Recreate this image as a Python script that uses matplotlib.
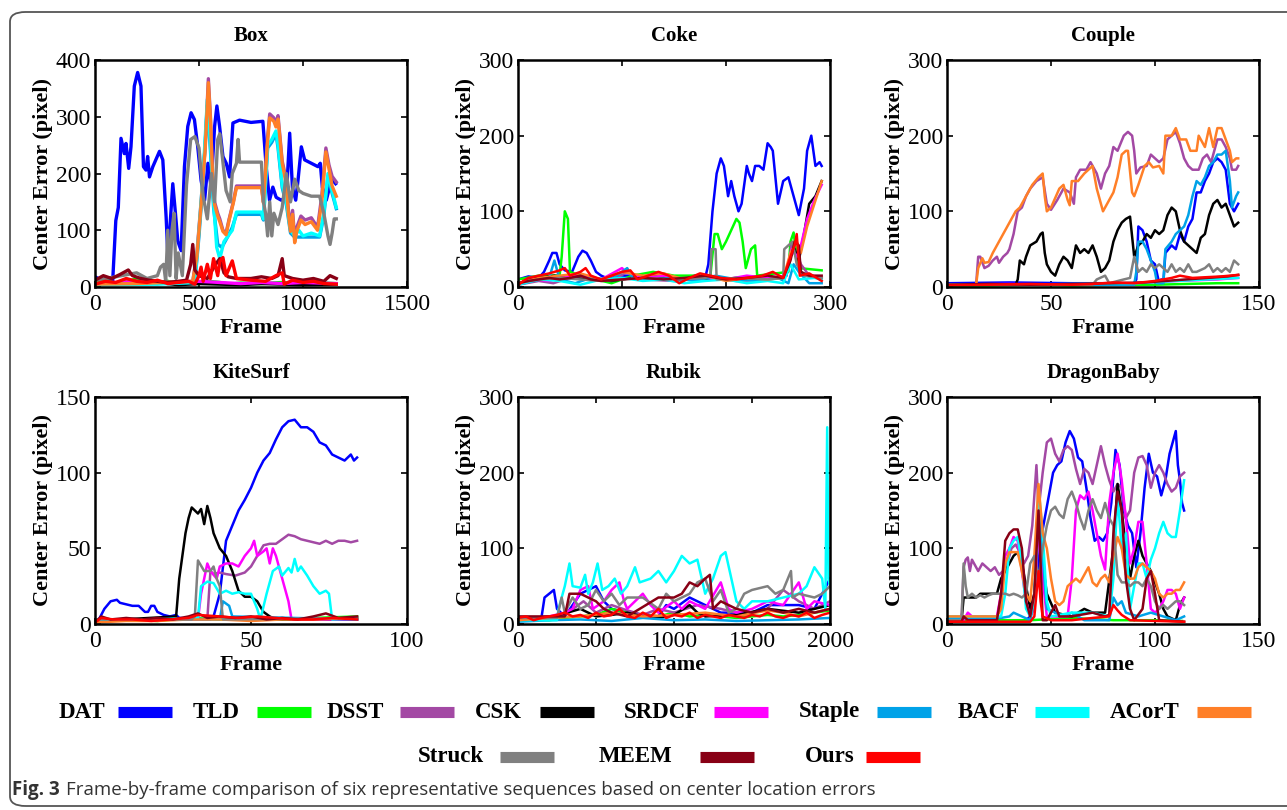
import matplotlib
matplotlib.use("Agg")
import matplotlib.pyplot as plt
from matplotlib.lines import Line2D
from matplotlib.patches import FancyBboxPatch

plt.rcParams['font.family'] = ['Liberation Serif', 'DejaVu Serif']
plt.rcParams['font.serif'] = ['Liberation Serif', 'DejaVu Serif']

trackers = ['DAT', 'TLD', 'DSST', 'CSK', 'SRDCF', 'Staple', 'BACF', 'ACorT', 'Struck', 'MEEM', 'Ours']
colors = ['#0000ff', '#00ff00', '#a349a4', '#000000', '#ff00ff', '#00a2e8',
          '#00ffff', '#ff7f27', '#808080', '#880015', '#ff0000']

# ---------------- Box ----------------
box_dat = [(0,18),(30,12),(60,16),(85,10),(100,117),(112,140),(125,262),(141,235),(149,253),(162,209),
           (173,247),(189,354),(205,378),(221,354),(233,212),(245,206),(253,230),(262,194),(278,212),
           (310,239),(326,224),(342,123),(350,58),(358,93),(374,182),(387,129),(398,81),(414,64),
           (430,212),(446,283),(462,307),(478,295),(494,247),(510,188),(527,153),(543,218),(558,176),
           (575,283),(586,319),(599,283),(615,230),(631,218),(647,194),(663,289),(695,294),(750,290),
           (807,292),(823,212),(839,153),(855,176),(871,158),(895,153),(920,158),(936,271),(949,176),
           (965,153),(976,188),(992,247),(1008,224),(1040,218),(1072,212),(1083,218),(1093,176),
           (1112,153),(1128,176),(1144,188),(1157,182)]
box_tld = [(0,8),(50,12),(100,6),(150,10),(200,14),(250,8),(300,6),(350,10),(400,5),(450,8),(500,6),
           (550,10),(600,8),(650,5),(700,7),(800,6),(900,8),(1000,5),(1100,7),(1160,6)]
box_dsst = [(0,5),(200,6),(470,10),(490,60),(510,150),(530,250),(545,367),(555,300),(565,200),(575,150),
            (590,130),(600,120),(615,100),(630,95),(645,120),(665,150),(680,178),(800,178),(810,150),
            (830,265),(840,305),(860,298),(870,288),(880,302),(890,262),(900,222),(910,205),(920,185),
            (930,135),(940,105),(950,135),(960,85),(970,105),(990,125),(1010,118),(1040,122),(1070,105),
            (1090,160),(1110,245),(1125,215),(1140,195),(1160,185)]
box_csk = [(0,4),(100,6),(200,5),(300,8),(400,4),(500,6),(600,5),(700,4),(800,6),(900,5),(1000,4),(1160,5)]
box_srdcf = [(0,6),(100,8),(200,10),(300,6),(400,8),(500,10),(600,8),(700,6),(800,8),(900,6),(1000,8),(1160,6)]
box_staple = [(0,5),(300,6),(480,8),(500,90),(520,190),(540,320),(555,240),(570,140),(590,75),(610,70),
              (640,90),(660,105),(680,128),(800,128),(810,118),(830,245),(850,255),(870,270),(880,245),
              (900,175),(920,145),(940,95),(960,88),(1000,88),(1080,88),(1100,125),(1120,195),(1140,165),
              (1160,138)]
box_bacf = [(0,4),(300,5),(480,8),(500,100),(520,200),(540,330),(555,250),(570,150),(585,70),(600,50),
            (620,80),(640,90),(660,100),(680,132),(800,132),(810,120),(830,250),(850,260),(870,275),
            (880,250),(900,180),(920,150),(940,100),(960,90),(980,100),(1000,90),(1040,95),(1080,90),
            (1100,130),(1120,200),(1140,170),(1160,140)]
box_acort = [(0,5),(200,6),(470,10),(490,55),(510,145),(530,245),(545,360),(555,295),(565,195),(575,145),
             (590,125),(600,115),(615,98),(630,92),(645,118),(665,148),(680,175),(800,175),(810,148),
             (830,258),(840,298),(860,292),(870,282),(880,296),(890,258),(900,218),(910,200),(920,178),
             (930,128),(940,98),(950,128),(960,78),(970,98),(990,118),(1010,110),(1040,115),(1070,100),
             (1090,150),(1110,238),(1125,208),(1140,178),(1160,160)]
box_struck = [(0,12),(100,18),(200,25),(250,15),(300,20),(315,35),(330,40),(340,10),(350,100),(360,20),
              (370,100),(380,130),(390,15),(400,60),(420,20),(440,180),(460,260),(480,265),(500,245),
              (520,160),(540,120),(560,200),(575,150),(590,260),(600,270),(615,220),(630,170),(650,150),
              (660,200),(680,218),(688,260),(695,220),(800,220),(810,150),(820,130),(830,90),(840,150),
              (850,90),(860,130),(880,110),(900,140),(920,200),(940,150),(960,190),(980,170),(1000,165),
              (1040,160),(1080,160),(1100,130),(1120,90),(1130,75),(1140,95),(1150,120),(1160,120)]
box_meem = [(0,12),(40,20),(80,15),(120,22),(160,30),(180,20),(220,15),(260,12),(300,10),(350,8),(400,10),
            (440,12),(460,40),(470,75),(480,30),(500,20),(540,15),(580,40),(600,50),(620,25),(640,18),
            (680,15),(750,15),(800,18),(850,15),(880,20),(900,50),(910,20),(950,15),(1000,12),(1050,15),
            (1100,10),(1130,20),(1160,15)]
box_ours = [(0,5),(50,10),(100,8),(150,15),(200,10),(250,8),(300,12),(350,6),(400,8),(450,10),(480,5),
            (500,20),(510,35),(520,10),(540,40),(555,15),(570,50),(590,20),(600,45),(615,52),(630,20),
            (660,46),(680,15),(750,12),(820,10),(870,20),(900,25),(910,5),(950,12),(1000,8),(1050,10),
            (1100,6),(1160,5)]

# ---------------- Coke ----------------
coke_dat = [(0,10),(10,14),(20,12),(25,20),(30,35),(33,45),(37,45),(40,30),(45,22),(52,20),(58,40),(62,48),
            (66,45),(70,35),(75,20),(80,15),(85,12),(100,15),(110,15),(120,12),(140,10),(160,10),(170,15),
            (180,12),(183,30),(187,100),(191,150),(195,170),(198,160),(202,120),(205,140),(208,120),
            (212,100),(215,110),(220,160),(222,150),(225,140),(228,160),(232,160),(236,155),(240,190),
            (243,185),(245,180),(250,110),(255,140),(260,145),(265,120),(270,95),(275,130),(278,180),
            (282,200),(286,160),(290,165),(292,160)]
coke_tld = [(0,10),(20,15),(40,15),(42,40),(45,100),(48,90),(50,20),(60,15),(90,5),(100,10),(110,15),
            (130,20),(150,15),(180,15),(185,15),(189,70),(192,70),(196,50),(200,60),(205,75),(210,90),
            (213,85),(216,60),(219,25),(224,50),(228,55),(230,15),(260,20),(262,60),(265,72),(268,40),
            (270,25),(292,22)]
coke_dsst = [(0,3),(20,8),(34,5),(50,12),(70,10),(90,8),(105,20),(120,10),(150,8),(180,12),(210,8),
             (240,10),(258,15),(263,55),(268,45),(272,30),(280,15),(292,12)]
coke_csk = [(0,3),(10,10),(20,12),(35,15),(50,12),(70,10),(90,8),(110,12),(130,15),(150,10),(170,12),
            (190,10),(210,12),(230,10),(250,12),(258,15),(262,40),(266,50),(270,35),(275,70),(280,110),
            (286,120),(292,140)]
coke_srdcf = [(0,5),(15,10),(30,8),(40,12),(60,15),(80,10),(100,25),(104,20),(120,12),(140,15),(160,10),
              (180,12),(200,10),(220,15),(240,12),(258,15),(263,50),(268,40),(272,55),(278,90),(285,115),
              (292,135)]
coke_staple = [(0,3),(15,8),(30,12),(35,35),(40,10),(55,5),(70,12),(90,10),(105,25),(110,12),(130,10),
               (150,12),(170,8),(190,15),(210,10),(230,8),(250,12),(260,5),(265,30),(270,20),(280,5),(292,5)]
coke_bacf = [(0,3),(20,10),(40,8),(60,3),(80,10),(100,12),(120,8),(140,10),(160,5),(180,8),(200,10),
             (220,5),(240,8),(255,5),(262,30),(270,10),(285,12),(292,10)]
coke_acort = [(0,5),(20,12),(40,15),(60,18),(80,10),(100,20),(120,15),(140,18),(160,10),(180,15),(200,8),
              (220,12),(240,10),(255,12),(262,45),(268,60),(272,45),(278,80),(285,110),(292,140)]
coke_struck = [(0,5),(20,10),(40,12),(60,10),(80,8),(100,10),(120,12),(150,10),(180,12),(185,15),(186,50),
               (190,50),(191,10),(210,12),(240,10),(255,12),(256,50),(260,55),(264,60),(268,30),(275,15),
               (292,12)]
coke_meem = [(0,5),(10,8),(20,10),(30,12),(40,10),(50,12),(60,15),(70,10),(80,8),(100,10),(120,12),
             (140,10),(160,12),(180,15),(200,10),(220,12),(240,15),(255,12),(262,35),(266,60),(270,55),
             (272,20),(280,15),(292,15)]
coke_ours = [(0,2),(5,8),(10,12),(20,15),(30,18),(40,22),(45,25),(50,15),(60,20),(65,25),(70,15),(80,10),
             (90,15),(100,20),(108,22),(115,10),(125,15),(135,20),(145,15),(155,5),(165,12),(175,18),
             (185,15),(195,12),(210,10),(220,12),(235,15),(245,20),(255,12),(262,40),(266,55),(268,70),
             (271,15),(280,18),(292,8)]

# ---------------- Couple ----------------
couple_dat = [(0,5),(30,6),(60,5),(90,5),(91,10),(92,80),(94,75),(96,60),(98,35),(100,30),(102,5),
              (103,10),(104,5),(105,45),(108,55),(110,50),(112,70),(114,60),(116,80),(118,90),(120,125),
              (122,125),(124,140),(126,150),(128,165),(130,170),(132,165),(134,155),(136,110),(138,100),
              (140,110)]
couple_tld = [(0,2),(20,2),(40,3),(60,2),(80,3),(100,3),(115,4),(130,5),(140,5)]
couple_dsst = [(0,3),(14,3),(15,40),(16,40),(18,25),(20,28),(22,35),(24,40),(25,32),(27,40),(29,45),
               (30,50),(32,70),(34,100),(36,105),(38,120),(40,130),(43,140),(46,145),(48,110),(50,102),
               (53,115),(56,130),(59,125),(61,110),(62,145),(64,155),(67,155),(69,165),(72,150),(74,130),
               (76,150),(78,160),(80,185),(82,180),(85,200),(87,205),(89,200),(90,180),(91,150),(93,158),
               (96,160),(98,175),(100,170),(102,165),(104,170),(106,195),(108,200),(110,205),(112,190),
               (114,170),(116,160),(118,155),(121,155),(123,170),(125,175),(127,165),(130,195),(132,195),
               (134,185),(136,170),(137,155),(139,155),(140,160)]
couple_csk = [(0,3),(33,3),(34,10),(35,35),(37,30),(38,40),(40,55),(43,60),(45,70),(46,72),(47,45),
              (48,30),(50,20),(52,15),(54,30),(56,40),(58,35),(60,25),(62,55),(64,45),(66,50),(68,45),
              (70,55),(72,40),(74,20),(76,25),(78,35),(80,60),(82,75),(84,85),(86,90),(88,93),(90,40),
              (92,55),(94,60),(96,70),(98,65),(100,75),(102,70),(104,75),(106,95),(108,105),(110,100),
              (112,75),(114,60),(116,55),(118,50),(120,45),(122,65),(124,70),(126,95),(128,110),(130,115),
              (132,105),(134,110),(136,95),(138,80),(140,85)]
couple_srdcf = [(0,3),(30,4),(60,3),(90,5),(110,8),(130,10),(140,12)]
couple_staple = [(0,3),(90,3),(91,20),(92,60),(94,60),(96,50),(98,35),(100,20),(101,5),(104,5),(105,50),
                 (108,60),(110,70),(112,75),(114,80),(116,95),(118,120),(120,140),(122,135),(124,145),
                 (126,160),(128,165),(130,175),(132,175),(134,180),(136,140),(137,105),(139,120),(140,125)]
couple_bacf = [(0,3),(30,3),(60,4),(90,5),(110,8),(125,10),(140,12)]
couple_acort = [(0,3),(14,3),(15,25),(17,38),(18,32),(20,33),(22,45),(25,60),(28,75),(30,85),(33,100),
                (35,105),(38,120),(41,135),(44,145),(46,150),(47,120),(48,100),(50,105),(54,130),(56,135),
                (58,115),(59,108),(60,140),(63,140),(66,150),(68,155),(70,160),(72,130),(74,110),(75,100),
                (77,110),(79,120),(80,125),(82,145),(84,175),(86,180),(87,180),(89,125),(90,120),(92,135),
                (95,160),(97,165),(99,158),(102,160),(104,150),(105,200),(108,200),(110,210),(112,195),
                (115,195),(117,180),(120,180),(121,200),(124,185),(126,210),(128,185),(130,210),(132,210),
                (134,195),(136,180),(137,165),(139,170),(140,170)]
couple_struck = [(0,3),(70,3),(72,10),(76,15),(78,5),(85,10),(88,12),(90,40),(92,20),(94,25),(96,20),
                 (98,30),(100,25),(102,30),(104,25),(106,20),(108,30),(110,20),(112,25),(114,20),(116,30),
                 (118,20),(120,20),(124,25),(126,30),(128,20),(130,25),(132,20),(134,25),(136,20),(138,35),
                 (140,30)]
couple_meem = [(0,3),(20,4),(40,3),(60,4),(80,5),(95,6),(105,8),(115,10),(125,12),(135,14),(140,16)]
couple_ours = [(0,2),(20,3),(40,4),(60,3),(70,4),(80,6),(90,5),(100,8),(108,12),(112,15),(118,12),
               (125,13),(132,14),(140,16)]

# ---------------- KiteSurf ----------------
kite_dat = [(0,0),(1,2),(3,10),(5,15),(7,16),(8,14),(10,13),(12,12),(14,12),(15,10),(16,8),(17,8),(18,12),
            (19,12),(20,8),(22,6),(24,5),(26,6),(27,4),(37,3),(38,5),(40,20),(42,55),(44,65),(46,75),
            (48,82),(50,90),(52,100),(54,108),(56,113),(58,122),(60,130),(62,134),(64,135),(66,130),
            (68,130),(70,127),(72,120),(74,118),(76,112),(78,110),(80,108),(82,112),(83,108),(84,110)]
kite_tld = [(0,2),(10,3),(20,2),(30,4),(40,3),(50,4),(60,3),(70,4),(84,5)]
kite_dsst = [(0,3),(36,3),(37,35),(38,33),(40,34),(42,33),(45,32),(48,34),(50,38),(52,45),(54,52),(56,53),
             (58,53),(60,56),(62,59),(64,58),(66,56),(68,55),(70,54),(72,53),(74,55),(76,53),(78,55),
             (80,55),(82,54),(84,55)]
kite_csk = [(0,2),(26,5),(27,30),(28,45),(29,60),(30,70),(31,77),(32,75),(33,73),(34,76),(35,66),(36,78),
            (37,70),(38,60),(40,50),(42,45),(44,35),(46,22),(48,18),(50,18),(52,15),(54,8),(56,5),(58,3),
            (84,3)]
kite_srdcf = [(0,3),(33,3),(34,20),(35,30),(36,40),(37,35),(39,30),(40,38),(42,40),(44,40),(46,38),(48,45),
              (50,50),(51,55),(52,45),(54,48),(55,50),(56,40),(57,50),(58,45),(60,30),(62,15),(63,3),(84,3)]
kite_staple = [(0,3),(40,3),(41,15),(43,12),(44,5),(84,3)]
kite_bacf = [(0,3),(17,3),(33,4),(34,25),(36,28),(38,27),(40,20),(42,22),(44,20),(46,21),(48,20),(50,20),
             (52,10),(53,3),(55,20),(57,35),(59,38),(60,32),(62,37),(63,34),(64,43),(65,35),(66,38),(68,32),
             (70,25),(72,20),(74,22),(75,20),(76,3),(84,4)]
kite_acort = [(0,1),(10,2),(20,2),(30,3),(40,3),(50,2),(60,3),(70,3),(84,4)]
kite_struck = [(0,3),(31,3),(32,5),(33,42),(35,35),(37,35),(38,38),(39,30),(40,25),(41,3),(84,4)]
kite_meem = [(0,1),(2,5),(5,3),(10,4),(15,3),(20,4),(25,3),(30,5),(33,7),(36,4),(40,5),(45,4),(50,5),
             (55,3),(60,4),(65,3),(70,5),(74,7),(78,4),(84,5)]
kite_ours = [(0,1),(2,4),(6,3),(12,3),(18,2),(24,3),(30,4),(33,6),(40,5),(46,4),(52,5),(58,4),(64,3),
             (70,3),(76,4),(84,3)]

# ---------------- Rubik ----------------
rubik_dat = [(0,8),(150,8),(170,35),(200,40),(230,45),(250,20),(300,10),(400,40),(500,50),(550,30),
             (600,20),(700,15),(900,10),(950,25),(1000,20),(1100,35),(1300,15),(1500,15),(1600,25),
             (1800,25),(1900,20),(2000,60)]
rubik_tld = [(0,5),(100,6),(200,5),(300,8),(400,10),(500,12),(600,20),(700,15),(800,12),(900,10),
             (1000,15),(1100,10),(1200,12),(1300,10),(1400,8),(1500,10),(1600,12),(1700,10),(1800,12),
             (1900,15),(2000,18)]
rubik_dsst = [(0,5),(150,8),(300,12),(420,30),(500,15),(600,25),(700,18),(800,12),(900,20),(1000,15),
              (1150,25),(1300,20),(1450,12),(1600,20),(1700,45),(1800,30),(1900,20),(2000,30)]
rubik_csk = [(0,5),(200,8),(400,20),(500,10),(600,12),(700,15),(800,10),(900,8),(1000,12),(1100,25),
             (1150,15),(1200,10),(1400,12),(1600,20),(1800,15),(2000,25)]
rubik_srdcf = [(0,5),(100,8),(200,10),(300,15),(350,20),(400,45),(450,50),(480,20),(550,30),(600,45),
               (650,55),(680,30),(700,20),(800,40),(850,25),(900,15),(1000,30),(1050,20),(1100,30),
               (1200,20),(1300,55),(1350,20),(1400,15),(1500,20),(1600,30),(1700,25),(1800,55),(1850,20),
               (1900,30),(2000,25)]
rubik_staple = [(0,3),(200,5),(400,6),(600,4),(800,8),(1000,5),(1200,6),(1400,4),(1600,5),(1800,6),(2000,8)]
rubik_bacf = [(0,5),(250,5),(260,20),(300,50),(330,80),(350,50),(400,48),(430,65),(450,40),(480,55),
              (510,80),(540,45),(580,50),(620,60),(660,40),(700,50),(750,75),(780,55),(850,60),(900,70),
              (950,55),(1000,70),(1050,90),(1100,80),(1150,85),(1200,40),(1250,60),(1300,90),(1330,95),
              (1400,30),(1450,20),(1500,30),(1600,30),(1700,35),(1800,40),(1850,50),(1900,75),(1950,60),
              (1970,20),(1982,260),(1990,60),(2000,50)]
rubik_acort = [(0,5),(200,8),(400,10),(600,15),(800,10),(1000,12),(1200,15),(1400,10),(1600,18),(1700,15),
               (1800,10),(2000,20)]
rubik_struck = [(0,8),(250,8),(280,35),(300,15),(350,35),(400,20),(450,25),(500,45),(550,30),(600,40),
                (650,25),(700,35),(800,35),(900,20),(950,40),(1000,30),(1100,40),(1150,55),(1200,60),
                (1250,30),(1300,45),(1350,15),(1400,20),(1450,40),(1500,45),(1600,50),(1650,40),(1700,45),
                (1750,70),(1760,35),(1800,40),(1900,35),(1950,40),(2000,50)]
rubik_meem = [(0,10),(250,10),(300,10),(330,40),(400,40),(450,35),(500,30),(550,20),(600,15),(700,10),
              (900,35),(1000,35),(1050,40),(1100,55),(1150,50),(1200,60),(1230,65),(1250,20),(1300,30),
              (1400,20),(1500,15),(1600,20),(1700,15),(1800,20),(1900,15),(2000,20)]
rubik_ours = [(0,8),(50,10),(100,5),(150,8),(200,10),(250,12),(300,15),(350,10),(400,12),(450,8),(500,15),
              (550,10),(600,12),(650,20),(700,10),(750,8),(800,15),(850,10),(900,20),(950,8),(1000,12),
              (1050,10),(1100,15),(1150,8),(1200,12),(1250,10),(1300,8),(1350,12),(1400,10),(1450,8),
              (1500,12),(1550,10),(1600,15),(1650,10),(1700,8),(1750,12),(1800,10),(1850,15),(1900,8),
              (1950,12),(2000,15)]

# ---------------- DragonBaby ----------------
dragon_dat = [(0,3),(38,5),(40,10),(43,50),(45,110),(47,140),(49,170),(51,200),(53,210),(55,215),(57,240),
              (59,255),(61,245),(63,220),(65,215),(67,180),(69,140),(71,110),(73,115),(75,110),(77,120),
              (79,160),(81,230),(83,210),(85,150),(87,130),(89,120),(91,75),(93,120),(95,180),(97,225),
              (99,200),(101,195),(103,170),(105,190),(107,225),(109,245),(110,255),(111,210),(112,190),
              (113,160),(114,150)]
dragon_tld = [(0,3),(20,5),(40,5),(60,8),(80,5),(100,5),(113,4)]
dragon_dsst = [(0,5),(7,5),(8,75),(9,85),(10,88),(11,70),(12,85),(13,80),(15,70),(17,80),(19,75),(21,70),
               (23,75),(25,65),(27,70),(29,80),(31,100),(33,105),(35,95),(37,80),(39,90),(41,130),(43,210),
               (44,150),(46,200),(48,240),(50,245),(52,225),(54,215),(56,230),(58,235),(60,230),(62,205),
               (64,185),(66,205),(68,200),(70,185),(72,210),(74,235),(76,210),(78,190),(80,175),(82,185),
               (84,180),(86,140),(88,150),(90,200),(92,220),(94,222),(96,210),(98,180),(100,200),(102,210),
               (104,200),(106,185),(108,175),(110,180),(112,195),(114,200)]
dragon_csk = [(0,5),(7,5),(8,35),(10,35),(14,35),(16,40),(20,40),(24,40),(26,60),(28,70),(30,80),(32,90),
              (34,95),(36,80),(38,50),(40,20),(42,40),(44,140),(46,80),(48,40),(52,15),(60,10),(66,20),
              (70,15),(76,15),(80,100),(82,185),(84,150),(86,100),(88,60),(90,90),(92,110),(94,90),(96,80),
              (98,70),(100,55),(102,40),(104,20),(106,10),(110,5),(112,25),(114,35)]
dragon_srdcf = [(0,5),(8,5),(10,15),(12,10),(24,10),(26,40),(28,90),(30,100),(32,115),(34,110),(36,70),
                (38,30),(40,10),(42,20),(44,130),(46,60),(48,10),(58,10),(60,60),(62,150),(64,170),(66,165),
                (68,175),(70,150),(72,120),(74,90),(76,72),(78,160),(80,200),(82,225),(84,190),(86,140),
                (88,80),(90,100),(92,135),(94,135),(96,80),(98,20),(100,15),(102,20),(104,30),(106,45),
                (108,45),(110,40),(112,20),(114,35)]
dragon_staple = [(0,8),(26,8),(30,10),(32,15),(36,10),(40,5),(42,30),(44,150),(46,90),(48,20),(56,10),
                 (60,15),(66,5),(78,5),(80,35),(82,25),(84,30),(86,15),(92,10),(98,15),(104,10),(110,5),
                 (114,10)]
dragon_bacf = [(0,10),(26,10),(28,40),(30,100),(32,110),(34,115),(36,80),(38,20),(40,10),(42,30),(44,180),
               (46,120),(48,30),(50,10),(60,15),(70,15),(78,10),(80,60),(82,170),(84,100),(86,120),(88,20),
               (92,80),(94,80),(96,60),(98,85),(100,100),(102,120),(104,135),(106,120),(108,115),(110,115),
               (112,150),(114,190)]
dragon_acort = [(0,10),(24,10),(26,20),(28,80),(30,95),(32,95),(34,95),(36,70),(38,40),(40,30),(42,90),
                (44,185),(46,120),(48,100),(50,60),(52,30),(54,25),(56,30),(58,50),(60,55),(62,60),(64,55),
                (66,65),(68,75),(70,55),(72,50),(74,60),(76,65),(78,55),(80,90),(82,115),(84,100),(86,65),
                (88,60),(90,60),(92,75),(94,80),(96,75),(98,70),(100,60),(102,40),(104,35),(106,40),(108,40),
                (110,45),(112,45),(114,55)]
dragon_struck = [(0,5),(7,5),(8,80),(9,50),(10,35),(12,40),(14,35),(16,38),(18,35),(20,38),(22,40),(24,40),
                 (26,40),(28,40),(30,38),(32,40),(34,38),(36,35),(38,40),(40,80),(42,90),(44,60),(46,100),
                 (48,130),(50,150),(52,155),(54,145),(56,140),(58,165),(60,175),(62,160),(64,140),(66,125),
                 (68,150),(70,165),(72,150),(74,140),(76,160),(78,140),(80,130),(82,65),(84,55),(86,55),
                 (88,50),(90,55),(92,55),(94,50),(96,60),(98,50),(100,30),(102,20),(104,25),(106,20),(108,25),
                 (110,30),(112,30),(114,25)]
dragon_meem = [(0,3),(7,3),(8,10),(10,5),(24,5),(26,40),(28,110),(30,120),(32,125),(34,125),(36,100),
               (38,30),(40,10),(42,40),(44,150),(45,80),(46,5),(48,5),(52,25),(54,10),(60,10),(70,15),(76,10),
               (78,12),(80,120),(82,175),(84,150),(86,60),(88,20),(90,5),(94,20),(96,60),(98,70),(100,40),
               (102,5),(114,3)]
dragon_ours = [(0,3),(40,3),(42,10),(44,70),(45,30),(46,10),(50,5),(60,5),(70,8),(78,10),(80,25),(82,18),
               (84,12),(88,5),(114,3)]

# title, x ticks, y ticks, series in tracker order
panels = [
    ('Box', [0, 500, 1000, 1500], [0, 100, 200, 300, 400],
     [box_dat, box_tld, box_dsst, box_csk, box_srdcf, box_staple, box_bacf,
      box_acort, box_struck, box_meem, box_ours]),
    ('Coke', [0, 100, 200, 300], [0, 100, 200, 300],
     [coke_dat, coke_tld, coke_dsst, coke_csk, coke_srdcf, coke_staple, coke_bacf,
      coke_acort, coke_struck, coke_meem, coke_ours]),
    ('Couple', [0, 50, 100, 150], [0, 100, 200, 300],
     [couple_dat, couple_tld, couple_dsst, couple_csk, couple_srdcf, couple_staple,
      couple_bacf, couple_acort, couple_struck, couple_meem, couple_ours]),
    ('KiteSurf', [0, 50, 100], [0, 50, 100, 150],
     [kite_dat, kite_tld, kite_dsst, kite_csk, kite_srdcf, kite_staple, kite_bacf,
      kite_acort, kite_struck, kite_meem, kite_ours]),
    ('Rubik', [0, 500, 1000, 1500, 2000], [0, 100, 200, 300],
     [rubik_dat, rubik_tld, rubik_dsst, rubik_csk, rubik_srdcf, rubik_staple,
      rubik_bacf, rubik_acort, rubik_struck, rubik_meem, rubik_ours]),
    ('DragonBaby', [0, 50, 100, 150], [0, 100, 200, 300],
     [dragon_dat, dragon_tld, dragon_dsst, dragon_csk, dragon_srdcf,
      dragon_staple, dragon_bacf, dragon_acort, dragon_struck, dragon_meem,
      dragon_ours]),
]

W, H = 1287, 810
fig = plt.figure(figsize=(W / 100, H / 100), dpi=100)

# rounded border of the figure panel (runs off the right edge like the original)
fig.patches.append(FancyBboxPatch((10 / W, 4 / H), 1.2, 794 / H, boxstyle='round,pad=0,rounding_size=0.012',
                                  transform=fig.transFigure, fill=False, edgecolor='#555555', lw=1.3))

serif = 'Liberation Serif'
lefts = [95, 518, 947]
tops = [60, 397]
for i, (name, xt, yt, series) in enumerate(panels):
    r, c = divmod(i, 3)
    ax = fig.add_axes([lefts[c] / W, 1 - (tops[r] + 227) / H, 312 / W, 227 / H])
    lw = 2.4 if name == 'Box' else 1.8
    for pts, col in zip(series, colors):
        xs, ys = zip(*pts)
        ax.plot(xs, ys, color=col, lw=lw, solid_joinstyle='round')
    ax.set_xticks(xt)
    ax.set_yticks(yt)
    ax.set_xlim(xt[0], xt[-1])
    ax.set_ylim(yt[0], yt[-1])
    ax.set_xticklabels([str(v) for v in xt], fontfamily=serif, fontsize=17)
    ax.set_yticklabels([str(v) for v in yt], fontfamily=serif, fontsize=17)
    ax.set_title(name, fontsize=15, fontweight='bold', fontfamily=serif, pad=14)
    ax.set_xlabel('Frame', fontsize=16, fontweight='bold', fontfamily=serif, labelpad=2)
    ax.set_ylabel('Center Error (pixel)', fontsize=16, fontweight='bold', fontfamily=serif, labelpad=2)
    ax.tick_params(direction='in', top=True, right=True, length=4, width=1.2, pad=3)
    ax.tick_params(axis='x', pad=5)
    for s in ax.spines.values():
        s.set_linewidth(1.8)

# legend drawn as text followed by a thick colour bar
row1 = [(105, 118), (240, 257), (384, 400), (522, 540), (700, 714), (860, 877), (1020, 1035), (1180, 1197)]
row2 = [(484, 500), (672, 700), (855, 866)]
slots = [(a, b, 712) for a, b in row1] + [(a, b, 757) for a, b in row2]
for name, col, (tx, px, y) in zip(trackers, colors, slots):
    fig.text(tx / W, 1 - y / H, name, ha='right', va='center', fontsize=16.5, fontweight='bold',
             fontfamily=serif)
    fig.add_artist(Line2D([px / W, (px + 54) / W], [1 - y / H, 1 - y / H], color=col, lw=8,
                          solid_capstyle='butt', transform=fig.transFigure))

fig.text(12 / W, 1 - 790 / H, 'Fig. 3', ha='left', va='center', fontsize=13.5, fontweight='bold',
         family='Open Sans', color='#333333')
fig.text(66 / W, 1 - 790 / H, 'Frame-by-frame comparison of six representative sequences based on center location errors',
         ha='left', va='center', fontsize=13.5, family='Open Sans', color='#333333')

fig.savefig('out.png', dpi=100)
